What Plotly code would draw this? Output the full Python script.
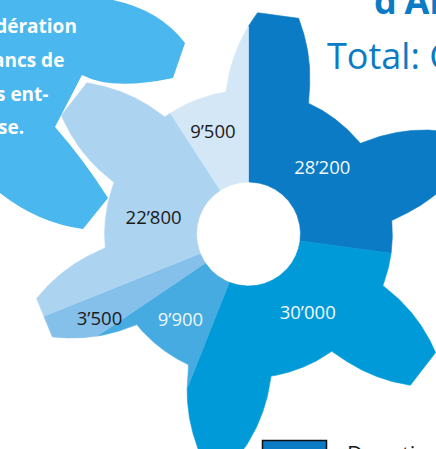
import numpy as np
import plotly.graph_objects as go

# ---------------- data ----------------
categories = ["Donations", "Catégorie 2", "Catégorie 3", "Catégorie 4", "Catégorie 5", "Catégorie 6"]
values = [28200, 30000, 9900, 3500, 22800, 9500]
value_labels = [f"{v:,}".replace(",", "\u2019") for v in values]

# ---------------- style ----------------
seg_colors = ["#0a7bc4", "#009ad8", "#45abe1", "#84c0ea", "#acd4f1", "#d4e7f6"]
label_colors = ["#f2f9fd", "#f2f9fd", "#eef7fc", "#1a1a1a", "#1a1a1a", "#1a1a1a"]
label_radius = [98, 100, 111, 172, 96, 107]
label_dangle = [0, -6, -1, -2, -9, -3]
FONT = "Open Sans"
TITLE_BLUE = "#0a7bc4"

W, H = 436, 449
CX, CY = 248.5, 234.0
R_IN = 52.0

# flower outline (6 petals)
N_PET = 6
PHI0 = 7.7
U0, V0, BK, PW = 137.8, 41.4, 0.00125, 2.2
R_TIP = 221.5
R_BASE = float(np.hypot(U0, V0))

uu = np.linspace(U0, 240, 4000)
vv = V0 - BK * (uu - U0) ** PW
rr = np.hypot(uu, vv)
keep = rr <= R_TIP
uu, vv, rr = uu[keep], vv[keep], rr[keep]
dd = np.degrees(np.arctan2(vv, uu))
U_TIP = uu[-1]
D_TIP = dd[-1]
D_BASE = dd[0]


def outer_r(theta):
    period = 360.0 / N_PET
    d = np.abs(((theta - PHI0 + period / 2) % period) - period / 2)
    r = np.interp(d, dd[::-1], rr[::-1])
    r = np.where(d <= D_TIP, U_TIP / np.cos(np.radians(d)), r)
    r = np.where(d >= D_BASE, R_BASE, r)
    return r


def xy(theta, r):
    t = np.radians(theta)
    return CX + r * np.sin(t), CY - r * np.cos(t)


fig = go.Figure()

total = float(sum(values))
cum = np.concatenate([[0.0], np.cumsum(values)]) / total * 360.0

for i, (cat, v) in enumerate(zip(categories, values)):
    a, b = cum[i], cum[i + 1]
    n = max(int((b - a) / 0.15), 4)
    th = np.linspace(a, b, n)
    xo, yo = xy(th, outer_r(th))
    xi, yi = xy(th[::-1], np.full(n, R_IN))
    xs = np.concatenate([xo, xi, xo[:1]])
    ys = np.concatenate([yo, yi, yo[:1]])
    fig.add_trace(go.Scatter(x=xs, y=ys, mode="lines", fill="toself",
                             fillcolor=seg_colors[i],
                             line=dict(color=seg_colors[i], width=0.6),
                             name=cat, hoverinfo="skip", showlegend=False))

# value labels
for i, lab in enumerate(value_labels):
    mid = (cum[i] + cum[i + 1]) / 2 + label_dangle[i]
    lx, ly = xy(np.array([mid]), np.array([label_radius[i]]))
    fig.add_trace(go.Scatter(x=lx, y=ly, mode="text", text=[lab],
                             textposition="middle center",
                             textfont=dict(family=FONT, size=18.5, color=label_colors[i]),
                             hoverinfo="skip", showlegend=False))

# decorative neighbouring shape (top-left)
deco_path = ("M -10,-10 L 113,-10 L 113,0 Q 160,10 185,43 L 173,78 Q 112,91 82,75 "
             "L 55,127 Q 84,160 108,198 L 83,229 Q 38,223 0,193 L -10,190 Z")
shapes = [
    dict(type="path", path=deco_path, xref="x", yref="y", layer="below",
         fillcolor="#4ab7ee", line=dict(width=0)),
    dict(type="rect", xref="x", yref="y", x0=262.5, x1=326.5, y0=440.5, y1=475,
         fillcolor=TITLE_BLUE, line=dict(color="#111111", width=1.5)),
]

deco_lines = [("édération", 79, 32), ("ancs de", 66, 66), ("s ent-", 50, 100), ("se.", 26, 133)]
annotations = []
for txt, xr, base in deco_lines:
    annotations.append(dict(text=txt, x=xr, y=base - 6, xref="x", yref="y",
                            xanchor="right", yanchor="middle", showarrow=False,
                            font=dict(family=FONT, size=19, color="white", weight="bold")))

annotations += [
    dict(text="d\u2019Aide", x=372, y=0, xref="x", yref="y", xanchor="left", yanchor="middle",
         showarrow=False, font=dict(family=FONT, size=36, color=TITLE_BLUE, weight="bold")),
    dict(text="Total: CHF 103\u2019900", x=325, y=55, xref="x", yref="y", xanchor="left",
         yanchor="middle", showarrow=False, font=dict(family=FONT, size=36, color=TITLE_BLUE)),
    dict(text="Donations", x=345 / W, y=1 - 453 / H, xref="paper", yref="paper",
         xanchor="left", yanchor="middle",
         showarrow=False, font=dict(family=FONT, size=22, color="#1a1a1a")),
]

fig.update_layout(
    width=W, height=H,
    margin=dict(l=0, r=0, t=0, b=0),
    paper_bgcolor="white", plot_bgcolor="rgba(0,0,0,0)",
    xaxis=dict(range=[0, W], visible=False, fixedrange=True),
    yaxis=dict(range=[H, 0], visible=False, fixedrange=True),
    shapes=shapes, annotations=annotations,
    showlegend=False,
)

fig.write_html("out.html", config={"displayModeBar": False},
               post_script="document.body.style.margin='0';")
